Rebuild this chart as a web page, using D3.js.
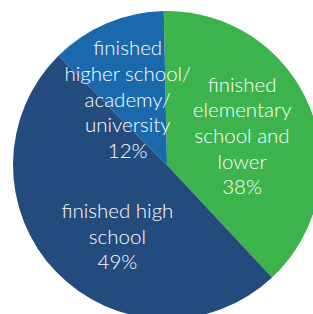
<!DOCTYPE html>
<html><head><meta charset="utf-8">
<script src="https://cdn.jsdelivr.net/npm/d3@7"></script>
<style>html,body{margin:0;padding:0;background:#fff;overflow:hidden}</style>
</head><body>
<svg id="c" width="313" height="314"></svg>
<script>
const categories = ["finished elementary school and lower", "finished high school", "finished higher school/ academy/ university"];
const values = [38, 49, 12];
const labelLines = [
  ["finished", "elementary", "school and", "lower", "38%"],
  ["finished high", "school", "49%"],
  ["finished", "higher school/", "academy/", "university", "12%"]
];
const colors = ["#3cb34c", "#234b7e", "#1b69ad"];

const svg = d3.select("#c");
const cx = 167, cy = 165, r = 154;
const start = -1.2 * Math.PI / 180;
const g = svg.append("g").attr("transform", `translate(${cx},${cy})`);
const pie = d3.pie().sort(null).startAngle(start).endAngle(start + 2 * Math.PI);
const arcs = pie(values);
const arc = d3.arc().innerRadius(0).outerRadius(r);
g.selectAll("path").data(arcs).join("path")
  .attr("d", arc).attr("fill", (d, i) => colors[i]);

// label placement: centroid at radius 80, with small per-slice nudges
const labelArc = d3.arc().innerRadius(0).outerRadius(2 * 80);
const tweak = [[1, 1], [8, 16], [-8, 8]];
const lh = 25.6;
arcs.forEach((d, i) => {
  const [x, y] = labelArc.centroid(d);
  const lines = labelLines[i];
  const t = g.append("text")
    .attr("text-anchor", "middle")
    .attr("fill", "#ffffff")
    .style("font-family", "Lato, 'Open Sans', sans-serif")
    .style("font-weight", "300")
    .style("font-size", "20.5px");
  const y0 = y + tweak[i][1] - (lines.length - 1) * lh / 2;
  lines.forEach((s, k) => {
    t.append("tspan").attr("x", x + tweak[i][0]).attr("y", y0 + k * lh).attr("dy", "0.35em").text(s);
  });
});
</script>
</body></html>
